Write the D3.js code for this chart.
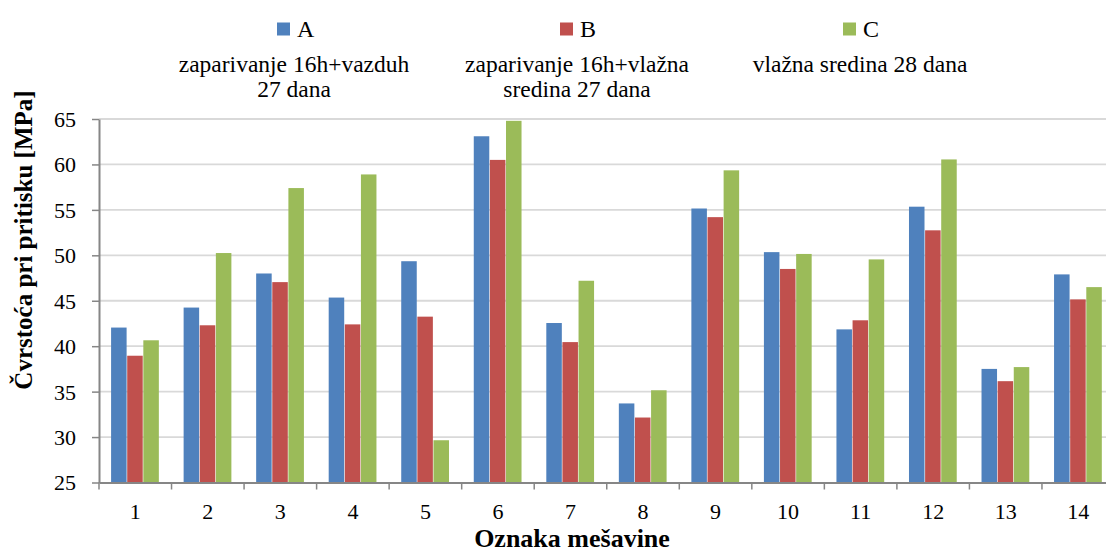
<!DOCTYPE html>
<html>
<head>
<meta charset="utf-8">
<script src="https://cdn.jsdelivr.net/npm/d3@7"></script>
<style>
  body { margin: 0; background: #fff; }
  svg { display: block; font-family: "Liberation Serif", serif; }
</style>
</head>
<body>
<div id="chart"></div>
<script>
// Data
const categories = ["1", "2", "3", "4", "5", "6", "7", "8", "9", "10", "11", "12", "13", "14"]
const seriesKeys = ["A", "B", "C"]
const seriesLabels = [
    ["zaparivanje 16h+vazduh", "27 dana"],
    ["zaparivanje 16h+vlažna", "sredina 27 dana"],
    ["vlažna sredina 28 dana"]
]
const valuesA = [42.05, 44.25, 48.0, 45.35, 49.35, 63.1, 42.55, 33.7, 55.15, 50.35, 41.85, 55.35, 37.5, 47.9]
const valuesB = [38.95, 42.3, 47.05, 42.4, 43.25, 60.5, 40.45, 32.15, 54.2, 48.5, 42.85, 52.75, 36.15, 45.15]
const valuesC = [40.65, 50.25, 57.4, 58.9, 29.65, 64.8, 47.2, 35.15, 59.35, 50.15, 49.55, 60.55, 37.7, 46.5]
const yTicks = [25, 30, 35, 40, 45, 50, 55, 60, 65]

// Constants
const width = 1106
const height = 554
const plot = { left: 99, right: 1114.5, top: 119, bottom: 482.5 }
const colors = ["#4f81bd", "#c0504d", "#9bbb59"]
const axisColor = "#868686"
const gridColor = "#d9d9d9"

const series = [valuesA, valuesB, valuesC]
const rows = categories.map((c, i) => ({ cat: c, vals: seriesKeys.map((k, j) => ({ key: k, value: series[j][i] })) }))

const svg = d3.select("#chart")
    .append("svg")
    .attr("width", width)
    .attr("height", height)

// Scales
const x = d3.scaleBand()
    .domain(categories)
    .range([plot.left, plot.right])

const xSub = d3.scaleBand()
    .domain(seriesKeys)
    .range([0, x.bandwidth()])
    .paddingInner(0)
    .paddingOuter(0.75)

const y = d3.scaleLinear()
    .domain([25, 65])
    .range([plot.bottom, plot.top])

const color = d3.scaleOrdinal().domain(seriesKeys).range(colors)

// Gridlines
svg.append("g")
    .selectAll("line")
    .data(yTicks.slice(1))
    .join("line")
    .attr("x1", plot.left)
    .attr("x2", width)
    .attr("y1", d => y(d))
    .attr("y2", d => y(d))
    .attr("stroke", gridColor)
    .attr("stroke-width", 1.8)

// Bars
const groups = svg.append("g")
    .selectAll("g")
    .data(rows)
    .join("g")
    .attr("transform", d => `translate(${x(d.cat)},0)`)

groups.selectAll("rect")
    .data(d => d.vals)
    .join("rect")
    .attr("x", d => xSub(d.key))
    .attr("width", xSub.bandwidth() - 0.6)
    .attr("y", d => y(d.value))
    .attr("height", d => y(25) - y(d.value))
    .attr("fill", d => color(d.key))

// Y axis
const yAxis = d3.axisLeft(y)
    .tickValues(yTicks)
    .tickSizeInner(7)
    .tickSizeOuter(0)
    .tickPadding(16)

const yAxisGroup = svg.append("g")
    .attr("transform", `translate(${plot.left},0)`)
    .call(yAxis)
yAxisGroup.selectAll("line").attr("stroke", axisColor).attr("stroke-width", 1.5)
yAxisGroup.select(".domain").attr("stroke", axisColor).attr("stroke-width", 2)
yAxisGroup.selectAll("text")
    .style("font-family", "Liberation Serif, serif")
    .style("font-size", "22px")
    .attr("fill", "#000")
    .attr("dy", "0.34em")

// X axis
const xAxis = d3.axisBottom(x)
    .tickSize(0)
    .tickPadding(21)

const xAxisGroup = svg.append("g")
    .attr("transform", `translate(0,${plot.bottom})`)
    .call(xAxis)
xAxisGroup.select(".domain").attr("stroke", axisColor).attr("stroke-width", 2)
xAxisGroup.selectAll("text")
    .style("font-family", "Liberation Serif, serif")
    .style("font-size", "22px")
    .attr("fill", "#000")

// category boundary ticks
svg.append("g")
    .selectAll("line")
    .data(categories.concat(["end"]))
    .join("line")
    .attr("x1", (d, i) => plot.left + i * x.step())
    .attr("x2", (d, i) => plot.left + i * x.step())
    .attr("y1", plot.bottom)
    .attr("y2", plot.bottom + 7)
    .attr("stroke", axisColor)
    .attr("stroke-width", 1.5)

// Axis titles
svg.append("text")
    .attr("transform", "translate(32,240) rotate(-90)")
    .attr("text-anchor", "middle")
    .style("font-size", "25px")
    .style("font-weight", "bold")
    .text("Čvrstoća pri pritisku [MPa]")

svg.append("text")
    .attr("x", 572)
    .attr("y", 547)
    .attr("text-anchor", "middle")
    .style("font-size", "26px")
    .style("font-weight", "bold")
    .text("Oznaka mešavine")

// Legend
const legendX0 = 294
const legendStep = 283
const legend = svg.append("g")
    .selectAll("g")
    .data(seriesKeys)
    .join("g")
    .attr("transform", (d, i) => `translate(${legendX0 + i * legendStep},0)`)

legend.append("rect")
    .attr("x", -17)
    .attr("y", 22.5)
    .attr("width", 13)
    .attr("height", 13)
    .attr("fill", d => color(d))

legend.append("text")
    .attr("x", 3)
    .attr("y", 36.5)
    .style("font-size", "24px")
    .text(d => d)

legend.each(function(d, i) {
    d3.select(this).selectAll(".lbl")
        .data(seriesLabels[i])
        .join("text")
        .attr("class", "lbl")
        .attr("x", 0)
        .attr("y", (t, j) => 71.5 + j * 25)
        .attr("text-anchor", "middle")
        .style("font-size", "23.5px")
        .text(t => t)
})
</script>
</body>
</html>
